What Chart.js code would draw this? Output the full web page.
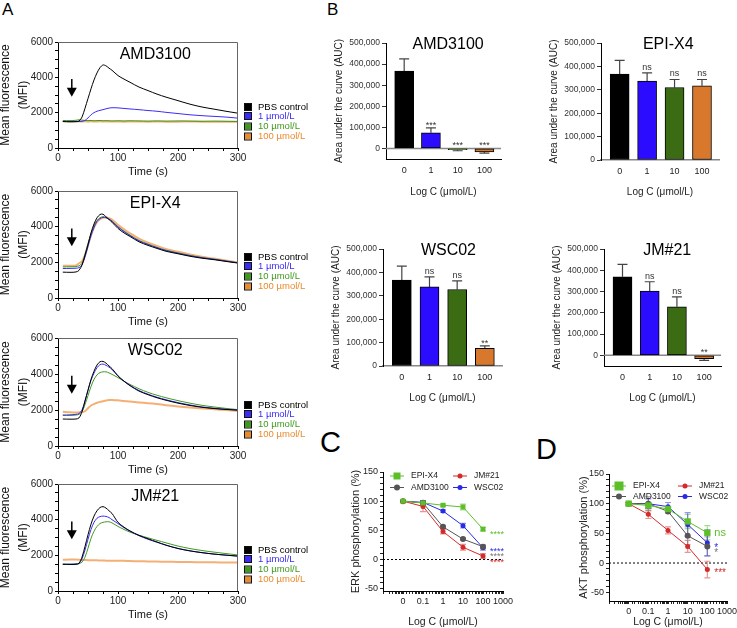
<!DOCTYPE html>
<html>
<head>
<meta charset="utf-8">
<script src="https://cdn.jsdelivr.net/npm/chart.js@4.4.1/dist/chart.umd.min.js"></script>
<style>
  body { margin: 0; background: #fff; width: 737px; height: 628px; overflow: hidden; position: relative; font-family: "Liberation Sans", Arial, sans-serif; }
  canvas { position: absolute; }
  .lab { position: absolute; color: #000; line-height: 1; }
</style>
</head>
<body>
<div class="lab" style="left:2px;top:1px;font-size:17px">A</div>
<div class="lab" style="left:327px;top:1px;font-size:17px">B</div>
<div class="lab" style="left:320px;top:428px;font-size:29px">C</div>
<div class="lab" style="left:536px;top:435px;font-size:29px">D</div>
<script>
// ---- panel A: calcium flux traces (MFI vs time) ----
const timeS = [8, 20, 30, 35, 40, 45, 50, 55, 60, 65, 70, 75, 80, 85, 90, 100, 110, 120, 135, 150, 165, 180, 200, 220, 240, 260, 280, 300];
const doseLabels = ['PBS control', '1 µmol/L', '10 µmol/L', '100 µmol/L'];

const amdPbs = [1500, 1480, 1490, 1520, 1750, 2250, 2800, 3350, 3850, 4250, 4550, 4700, 4650, 4520, 4400, 4100, 3900, 3720, 3450, 3250, 3050, 2880, 2680, 2480, 2320, 2200, 2080, 1970];
const amd1 = [1500, 1500, 1500, 1500, 1510, 1560, 1700, 1880, 2000, 2080, 2130, 2170, 2220, 2260, 2280, 2270, 2240, 2210, 2170, 2120, 2080, 2020, 1950, 1880, 1830, 1790, 1750, 1690];
const amd10 = [1560, 1550, 1570, 1600, 1580, 1560, 1550, 1560, 1540, 1550, 1560, 1540, 1550, 1540, 1530, 1540, 1530, 1540, 1530, 1520, 1530, 1520, 1530, 1520, 1510, 1520, 1510, 1500];
const amd100 = [1520, 1510, 1520, 1510, 1500, 1510, 1500, 1510, 1500, 1500, 1510, 1500, 1500, 1500, 1500, 1500, 1490, 1500, 1500, 1490, 1500, 1490, 1490, 1500, 1490, 1490, 1490, 1490];

const epiPbs = [1450, 1440, 1460, 1550, 1850, 2400, 3000, 3650, 4150, 4500, 4680, 4700, 4550, 4400, 4250, 3900, 3650, 3450, 3150, 2950, 2780, 2620, 2480, 2340, 2230, 2150, 2050, 1960];
const epi1 = [1650, 1660, 1670, 1700, 1850, 2300, 2900, 3500, 3950, 4300, 4450, 4520, 4500, 4420, 4300, 3980, 3720, 3500, 3200, 3000, 2820, 2660, 2510, 2370, 2260, 2170, 2070, 1970];
const epi10 = [1740, 1750, 1760, 1800, 1950, 2450, 3050, 3600, 4050, 4350, 4500, 4560, 4520, 4430, 4320, 4000, 3750, 3530, 3230, 3020, 2840, 2680, 2530, 2390, 2270, 2180, 2080, 1980];
const epi100 = [1810, 1810, 1820, 1950, 2050, 2400, 2950, 3500, 3950, 4250, 4420, 4500, 4520, 4480, 4400, 4100, 3850, 3630, 3330, 3100, 2920, 2750, 2590, 2440, 2310, 2210, 2100, 1990];

const wscPbs = [1500, 1490, 1500, 1560, 1900, 2500, 3100, 3700, 4150, 4500, 4680, 4700, 4600, 4450, 4300, 3900, 3600, 3350, 3050, 2850, 2680, 2540, 2380, 2250, 2150, 2080, 2030, 1990];
const wsc1 = [1720, 1730, 1760, 1800, 2000, 2500, 3100, 3650, 4050, 4350, 4520, 4550, 4480, 4380, 4250, 3880, 3600, 3370, 3080, 2880, 2710, 2570, 2410, 2280, 2170, 2100, 2040, 2000];
const wsc10 = [1700, 1700, 1720, 1760, 1900, 2300, 2800, 3300, 3700, 3950, 4080, 4120, 4120, 4060, 3980, 3800, 3600, 3420, 3180, 2980, 2820, 2680, 2520, 2380, 2260, 2170, 2090, 2020];
const wsc100 = [1900, 1870, 1860, 1870, 1880, 1930, 2100, 2250, 2330, 2400, 2450, 2490, 2530, 2560, 2560, 2540, 2500, 2470, 2420, 2380, 2330, 2270, 2200, 2140, 2090, 2040, 2000, 1950];

const jmPbs = [1500, 1490, 1500, 1560, 1900, 2500, 3150, 3750, 4200, 4500, 4680, 4730, 4650, 4500, 4350, 3850, 3580, 3370, 3120, 2930, 2750, 2570, 2380, 2250, 2150, 2070, 2010, 1960];
const jm1 = [1500, 1500, 1510, 1540, 1800, 2300, 2900, 3450, 3850, 4080, 4170, 4200, 4180, 4120, 4000, 3780, 3550, 3350, 3100, 2900, 2730, 2570, 2390, 2250, 2150, 2070, 2010, 1950];
const jm10 = [1500, 1500, 1510, 1530, 1620, 1900, 2400, 2950, 3350, 3620, 3780, 3850, 3880, 3880, 3820, 3620, 3450, 3300, 3130, 2980, 2840, 2700, 2520, 2380, 2270, 2180, 2100, 2020];
const jm100 = [1750, 1760, 1760, 1750, 1740, 1740, 1730, 1730, 1720, 1720, 1710, 1710, 1700, 1700, 1700, 1690, 1690, 1680, 1670, 1660, 1650, 1640, 1630, 1620, 1610, 1610, 1600, 1600];

// ---- panel B: area under the curve ----
const aucCats = ['0', '1', '10', '100'];
const aucAmd = [367000, 74000, -6000, -16000];
const aucAmdErr = [58000, 24000, 5000, 6000];
const aucAmdSig = ['', '***', '***', '***'];
const aucEpi = [367000, 337000, 310000, 317000];
const aucEpiErr = [59000, 35000, 34000, 27000];
const aucEpiSig = ['', 'ns', 'ns', 'ns'];
const aucWsc = [367000, 338000, 327000, 76000];
const aucWscErr = [60000, 43000, 37000, 10000];
const aucWscSig = ['', 'ns', 'ns', '**'];
const aucJm = [369000, 302000, 228000, -16000];
const aucJmErr = [59000, 44000, 47000, 8000];
const aucJmSig = ['', 'ns', 'ns', '**'];
const aucTicks = [0, 100000, 200000, 300000, 400000, 500000];

// ---- panels C/D: phosphorylation (0 µmol/L is plotted at 0.01) ----
const concX = [0.01, 0.1, 1, 10, 100];
const erkEpi = [100, 97, 93, 90, 52];
const erkEpiErr = [1, 2, 2, 5, 3];
const erkJm = [100, 91, 48, 21, 6];
const erkJmErr = [1, 9, 4, 5, 4];
const erkAmd = [100, 97, 56, 35, 22];
const erkAmdErr = [1, 4, 2, 2, 3];
const erkWsc = [100, 98, 83, 58, 20];
const erkWscErr = [1, 3, 2, 4, 4];
const aktEpi = [100, 97, 91, 70, 51];
const aktEpiErr = [2, 5, 4, 12, 12];
const aktJm = [100, 82, 55, 28, -11];
const aktJmErr = [2, 7, 6, 10, 14];
const aktAmd = [100, 100, 87, 46, 28];
const aktAmdErr = [2, 12, 3, 15, 16];
const aktWsc = [100, 100, 95, 65, 34];
const aktWscErr = [2, 8, 7, 20, 22];
const phosTicks = [-50, -40, -30, -20, -10, 0, 10, 20, 30, 40, 50, 60, 70, 80, 90, 100, 110, 120, 130, 140, 150];

const F = '"Liberation Sans", Arial, Helvetica, sans-serif';
Chart.defaults.font.family = F;
Chart.defaults.color = '#222';
Chart.defaults.animation = false;
Chart.defaults.responsive = false;
Chart.defaults.plugins.legend.display = false;
Chart.defaults.plugins.tooltip.enabled = false;

const COL = { black: '#000', blue: '#3b2cf5', green: '#3f9a1c', orange: '#e98a2c' };

// canvas sized so the plot area lands on the given rect
function place(plot, box) {
  const left = plot.l - box.yw, top = plot.t - box.pt;
  const c = document.createElement('canvas');
  c.width = plot.r + box.pr - left;
  c.height = plot.b + box.xh - top;
  c.style.left = left + 'px';
  c.style.top = top + 'px';
  document.body.appendChild(c);
  return c;
}

const innerTitle = {
  id: 'innerTitle',
  afterDraw(chart, args, o) {
    if (!o.text) return;
    const { ctx, chartArea: a } = chart;
    ctx.save();
    ctx.font = o.size + 'px ' + F;
    ctx.fillStyle = '#000';
    ctx.textAlign = 'center';
    ctx.textBaseline = 'middle';
    ctx.fillText(o.text, a.left + a.width * o.x, a.top + o.dy);
    ctx.restore();
  }
};

const frame = {
  id: 'frame',
  afterDraw(chart) {
    const { ctx, chartArea: a } = chart;
    ctx.save();
    ctx.strokeStyle = '#666';
    ctx.lineWidth = 1;
    ctx.beginPath();
    ctx.moveTo(a.left, a.top + 0.5); ctx.lineTo(a.right - 0.5, a.top + 0.5); ctx.lineTo(a.right - 0.5, a.bottom);
    ctx.stroke();
    ctx.restore();
  }
};

const arrow = {
  id: 'arrow',
  afterDraw(chart, args, o) {
    const { ctx, scales } = chart;
    const x = scales.x.getPixelForValue(o.t);
    const y1 = scales.y.getPixelForValue(o.from), y2 = scales.y.getPixelForValue(o.to);
    ctx.save();
    ctx.strokeStyle = '#000'; ctx.fillStyle = '#000'; ctx.lineWidth = 1.5;
    ctx.beginPath(); ctx.moveTo(x, y1); ctx.lineTo(x, y2 - 8); ctx.stroke();
    ctx.beginPath(); ctx.moveTo(x - 5, y2 - 9); ctx.lineTo(x + 5, y2 - 9); ctx.lineTo(x, y2); ctx.closePath(); ctx.fill();
    ctx.restore();
  }
};

const boxLegend = {
  id: 'boxLegend',
  afterDraw(chart, args, o) {
    const { ctx, chartArea: a } = chart;
    ctx.save();
    ctx.font = o.size + 'px ' + F;
    ctx.textBaseline = 'middle';
    chart.data.datasets.forEach((ds, i) => {
      const x = a.right + o.dx, y = a.bottom + o.rows[i];
      ctx.fillStyle = ds.legendColor;
      ctx.fillRect(x, y - 3, 6, 6);
      ctx.strokeStyle = '#111'; ctx.lineWidth = 1;
      ctx.strokeRect(x - 0.5, y - 3.5, 7, 7);
      ctx.fillStyle = ds.legendColor;
      ctx.fillText(ds.label, x + 13, y);
    });
    ctx.restore();
  }
};

function drawMarker(ctx, style, r, x, y, color) {
  ctx.fillStyle = color;
  if (style === 'rect') {
    ctx.fillRect(x - r, y - r, 2 * r, 2 * r);
  } else {
    ctx.beginPath(); ctx.arc(x, y, r, 0, Math.PI * 2); ctx.fill();
  }
}

const lineLegend = {
  id: 'lineLegend',
  afterDraw(chart, args, o) {
    const { ctx, chartArea: a } = chart;
    ctx.save();
    ctx.font = o.size + 'px ' + F;
    ctx.textBaseline = 'middle';
    chart.data.datasets.forEach((ds, i) => {
      const x = a.left + o.cols[i % 2], y = a.top + o.rows[Math.floor(i / 2)];
      ctx.strokeStyle = ds.borderColor; ctx.lineWidth = 1;
      ctx.beginPath(); ctx.moveTo(x - 7, y); ctx.lineTo(x + 7, y); ctx.stroke();
      drawMarker(ctx, ds.pointStyle, ds.pointRadius, x, y, ds.borderColor);
      ctx.fillStyle = '#222';
      ctx.fillText(ds.label, x + o.gap, y);
    });
    ctx.restore();
  }
};

const errorBars = {
  id: 'errorBars',
  beforeDatasetsDraw(chart, args, o) {
    const { ctx } = chart, ys = chart.scales.y;
    chart.data.datasets.forEach((ds, di) => {
      if (!ds.errors) return;
      const meta = chart.getDatasetMeta(di);
      ctx.save();
      ctx.strokeStyle = ds.errorColor || '#555';
      ctx.lineWidth = 1.2;
      meta.data.forEach((el, i) => {
        const v = ds.data[i].y, e = ds.errors[i];
        if (!e) return;
        const ends = o.both ? [v + e, v - e] : [v + (v >= 0 ? e : -e)];
        ends.forEach(end => {
          const y0 = ys.getPixelForValue(v), y1 = ys.getPixelForValue(end);
          ctx.beginPath();
          ctx.moveTo(el.x, y0); ctx.lineTo(el.x, y1);
          ctx.moveTo(el.x - o.cap, y1); ctx.lineTo(el.x + o.cap, y1);
          ctx.stroke();
        });
      });
      ctx.restore();
    });
  }
};

const barSig = {
  id: 'barSig',
  afterDatasetsDraw(chart, args, o) {
    const { ctx } = chart, ys = chart.scales.y;
    const ds = chart.data.datasets[0], meta = chart.getDatasetMeta(0);
    ctx.save();
    ctx.font = o.size + 'px ' + F;
    ctx.fillStyle = '#333';
    ctx.textAlign = 'center';
    ctx.textBaseline = 'bottom';
    meta.data.forEach((el, i) => {
      const txt = ds.sig[i];
      if (!txt) return;
      const v = ds.data[i].y;
      const top = Math.max(0, v >= 0 ? v + ds.errors[i] : 0);
      const shift = txt.startsWith('*') ? 3 : 0;
      ctx.fillText(txt, el.x, ys.getPixelForValue(top) - 1 + shift);
    });
    ctx.restore();
  }
};

const zeroLine = {
  id: 'zeroLine',
  beforeDatasetsDraw(chart, args, o) {
    const { ctx, chartArea: a } = chart;
    const y = chart.scales.y.getPixelForValue(0);
    ctx.save();
    ctx.strokeStyle = o.color; ctx.lineWidth = o.width;
    ctx.setLineDash(o.dash || []);
    ctx.beginPath(); ctx.moveTo(a.left, y); ctx.lineTo(a.right, y); ctx.stroke();
    ctx.restore();
  }
};

const sigText = {
  id: 'sigText',
  afterDatasetsDraw(chart, args, o) {
    const { ctx, scales } = chart;
    const x = scales.x.getPixelForValue(o.at) + o.dx;
    ctx.save();
    ctx.textBaseline = 'middle';
    o.items.forEach(it => {
      ctx.font = it.size + 'px ' + F;
      ctx.fillStyle = it.color;
      ctx.fillText(it.text, x, scales.y.getPixelForValue(it.y) + (it.text.startsWith('*') ? 3 : 0));
    });
    ctx.restore();
  }
};

// ---------- panel A ----------
function traceChart(plot, name, series) {
  const box = { yw: 61, xh: 31, pt: 12, pr: 72 };
  const colors = [COL.black, COL.blue, COL.green, 'rgba(240,150,70,0.75)'];
  const legendColors = [COL.black, COL.blue, COL.green, COL.orange];
  new Chart(place(plot, box), {
    type: 'line',
    data: {
      datasets: series.map((vals, i) => ({
        label: doseLabels[i],
        data: timeS.map((t, k) => ({ x: t, y: vals[k] })),
        borderColor: colors[i],
        legendColor: legendColors[i],
        borderWidth: i === 3 ? 2 : 1,
        pointRadius: 0,
        tension: 0.3
      }))
    },
    options: {
      layout: { padding: { top: box.pt, right: box.pr, left: 0, bottom: 0 } },
      scales: {
        x: {
          type: 'linear', min: 0, max: 300,
          afterFit: s => { s.height = box.xh; },
          grid: { drawOnChartArea: false, tickLength: 3, color: '#000' },
          border: { color: '#000' },
          ticks: { stepSize: 25, autoSkip: false, maxRotation: 0, padding: 1, font: { size: 10 }, color: '#222',
            callback: v => (v % 100 === 0 ? v : '') },
          title: { display: true, text: 'Time (s)', font: { size: 11 }, color: '#111', padding: 0 }
        },
        y: {
          min: 0, max: 6000,
          afterFit: s => { s.width = box.yw; },
          grid: { drawOnChartArea: false, tickLength: 3, color: '#000' },
          border: { color: '#000' },
          ticks: { stepSize: 500, autoSkip: false, padding: 2, font: { size: 10 }, color: '#222',
            callback: v => (v % 2000 === 0 ? v : '') },
          title: { display: true, text: ['Mean fluorescence', '(MFI)'], font: { size: 12, lineHeight: 1.5 }, color: '#111', padding: 0 }
        }
      },
      plugins: {
        innerTitle: { text: name, size: 16, x: 0.54, dy: 13 },
        arrow: { t: 23, from: 3900, to: 2900 },
        boxLegend: { size: 9.5, dx: 7, rows: [-41, -32, -21.5, -11.5] }
      }
    },
    plugins: [innerTitle, frame, arrow, boxLegend]
  });
}

traceChart({ l: 58, t: 42, r: 238, b: 148 }, 'AMD3100', [amdPbs, amd1, amd10, amd100]);
traceChart({ l: 58, t: 191, r: 238, b: 298 }, 'EPI-X4', [epiPbs, epi1, epi10, epi100]);
traceChart({ l: 58, t: 338, r: 238, b: 446 }, 'WSC02', [wscPbs, wsc1, wsc10, wsc100]);
traceChart({ l: 58, t: 484, r: 238, b: 591 }, 'JM#21', [jmPbs, jm1, jm10, jm100]);

// ---------- panel B ----------
function aucChart(plot, name, vals, errs, sig, withNeg, xh, titleX) {
  const box = { yw: 53, xh: xh, pt: 12, pr: 3 };
  new Chart(place(plot, box), {
    type: 'bar',
    data: {
      datasets: [{
        data: aucCats.map((c, i) => ({ x: i, y: vals[i] })),
        errors: errs,
        sig: sig,
        errorColor: '#444',
        backgroundColor: ['#000', '#2b0cff', '#3b6b13', '#d8782c'],
        borderColor: '#000',
        borderWidth: 1,
        borderSkipped: false,
        barThickness: 19
      }]
    },
    options: {
      layout: { padding: { top: box.pt, right: box.pr, left: 0, bottom: 0 } },
      scales: {
        x: {
          type: 'linear', min: -0.68, max: 3.62, offset: false,
          afterFit: s => { s.height = box.xh; },
          afterBuildTicks: s => { s.ticks = aucCats.map((c, i) => ({ value: i })); },
          grid: { display: false, drawTicks: false },
          border: withNeg ? { color: '#000', width: 1 } : { color: '#888', width: 1.5 },
          ticks: { autoSkip: false, maxRotation: 0, padding: 6, font: { size: 9 }, color: '#222',
            callback: v => (aucCats[v] !== undefined ? aucCats[v] : '') },
          title: { display: true, text: 'Log C (μmol/L)', font: { size: 10 }, color: '#222', padding: 0 }
        },
        y: {
          min: withNeg ? -50000 : 0, max: 500000,
          afterFit: s => { s.width = box.yw; },
          afterBuildTicks: s => { s.ticks = aucTicks.map(v => ({ value: v })); },
          grid: { drawOnChartArea: false, tickLength: 4, color: '#333' },
          border: { color: '#000' },
          ticks: { autoSkip: false, padding: 2, font: { size: 8.5 }, color: '#333',
            callback: v => v.toLocaleString('en-US') },
          title: { display: true, text: 'Area under the curve (AUC)', font: { size: 10 }, color: '#222', padding: 0 }
        }
      },
      plugins: {
        innerTitle: { text: name, size: 16, x: titleX, dy: 2 },
        errorBars: { both: false, cap: 5 },
        barSig: { size: 9 },
        zeroLine: { color: withNeg ? '#888' : 'rgba(0,0,0,0)', width: 1.5 }
      }
    },
    plugins: [innerTitle, zeroLine, errorBars, barSig]
  });
}

aucChart({ l: 386, t: 43, r: 501, b: 159 }, 'AMD3100', aucAmd, aucAmdErr, aucAmdSig, true, 39, 0.54);
aucChart({ l: 601, t: 43, r: 719, b: 160 }, 'EPI-X4', aucEpi, aucEpiErr, aucEpiSig, false, 38, 0.57);
aucChart({ l: 383, t: 249, r: 502, b: 366 }, 'WSC02', aucWsc, aucWscErr, aucWscSig, false, 38, 0.55);
aucChart({ l: 604, t: 249, r: 721, b: 366 }, 'JM#21', aucJm, aucJmErr, aucJmSig, true, 38, 0.54);

// ---------- panels C and D ----------
function phosChart(plot, yTitle, yMin, series, errs, sigs, legend, yw, xh) {
  const box = { yw: yw, xh: xh, pt: 8, pr: 14 };
  const names = ['EPI-X4', 'JM#21', 'AMD3100', 'WSC02'];
  const colors = ['#5cbf2a', '#d42a2a', '#555555', '#2a2ae6'];
  const errColors = ['rgba(92,191,42,0.55)', 'rgba(212,42,42,0.5)', 'rgba(85,85,85,0.45)', 'rgba(42,42,230,0.5)'];
  const styles = ['rect', 'circle', 'circle', 'circle'];
  const radii = [legend.sq, 2.5, 3, 2.5];
  const exps = { '-2': '0', '-1': '0.1', '0': '1', '1': '10', '2': '100', '3': '1000' };
  new Chart(place(plot, box), {
    type: 'line',
    data: {
      datasets: series.map((vals, i) => ({
        label: names[i],
        data: concX.map((c, k) => ({ x: c, y: vals[k] })),
        errors: errs[i],
        errorColor: errColors[i],
        borderColor: colors[i],
        backgroundColor: colors[i],
        borderWidth: 1,
        pointStyle: styles[i],
        pointRadius: radii[i],
        pointBorderWidth: 0,
        tension: 0
      }))
    },
    options: {
      layout: { padding: { top: box.pt, right: box.pr, left: 0, bottom: 0 } },
      scales: {
        x: {
          type: 'logarithmic', min: 0.001, max: 1000,
          afterFit: s => { s.height = box.xh; },
          grid: { drawOnChartArea: false, tickLength: 3, color: '#222' },
          border: { color: '#000' },
          ticks: { autoSkip: false, maxRotation: 0, padding: 2, font: { size: 9 }, color: '#222',
            callback: v => {
              const e = Math.log10(v), r = Math.round(e);
              return Math.abs(e - r) < 1e-6 && exps[r] !== undefined ? exps[r] : '';
            } },
          title: { display: true, text: 'Log C (μmol/L)', font: { size: 10.5 }, color: '#222', padding: 0 }
        },
        y: {
          min: yMin, max: 150,
          afterFit: s => { s.width = box.yw; },
          afterBuildTicks: s => { s.ticks = phosTicks.map(v => ({ value: v })); },
          grid: { drawOnChartArea: false, tickLength: 3, color: '#222' },
          border: { color: '#000' },
          ticks: { autoSkip: false, padding: 2, font: { size: 9 }, color: '#222',
            callback: v => (v % 50 === 0 ? v : '') },
          title: { display: true, text: yTitle, font: { size: 11 }, color: '#222', padding: 0 }
        }
      },
      plugins: {
        zeroLine: { color: '#000', width: 1, dash: [2, 2] },
        errorBars: { both: true, cap: 3 },
        lineLegend: { size: 8.5, cols: legend.cols, rows: legend.rows, gap: 14 },
        sigText: { at: 100, dx: sigs.dx, items: sigs.items }
      }
    },
    plugins: [zeroLine, errorBars, lineLegend, sigText]
  });
}

phosChart({ l: 383, t: 472, r: 503, b: 591 }, 'ERK phosphorylation (%)', -54,
  [erkEpi, erkJm, erkAmd, erkWsc], [erkEpiErr, erkJmErr, erkAmdErr, erkWscErr],
  { dx: 7, items: [
    { text: '****', color: '#5cbf2a', y: 48, size: 9 },
    { text: '****', color: '#2a2ae6', y: 19, size: 9 },
    { text: '****', color: '#777', y: 10, size: 9 },
    { text: '****', color: '#d42a2a', y: 0, size: 9 }
  ] },
  { cols: [14, 77], rows: [4, 15.5], sq: 3.5 }, 34, 37);

phosChart({ l: 609, t: 474, r: 727, b: 601 }, 'AKT phosphorylation (%)', -64,
  [aktEpi, aktJm, aktAmd, aktWsc], [aktEpiErr, aktJmErr, aktAmdErr, aktWscErr],
  { dx: 7, items: [
    { text: 'ns', color: '#5cbf2a', y: 50, size: 11 },
    { text: '*', color: '#2a2ae6', y: 30, size: 10 },
    { text: '*', color: '#777', y: 21, size: 10 },
    { text: '***', color: '#d42a2a', y: -12, size: 10 }
  ] },
  { cols: [10, 76], rows: [12, 22.5], sq: 4.5 }, 32, 27);
</script>
</body>
</html>
